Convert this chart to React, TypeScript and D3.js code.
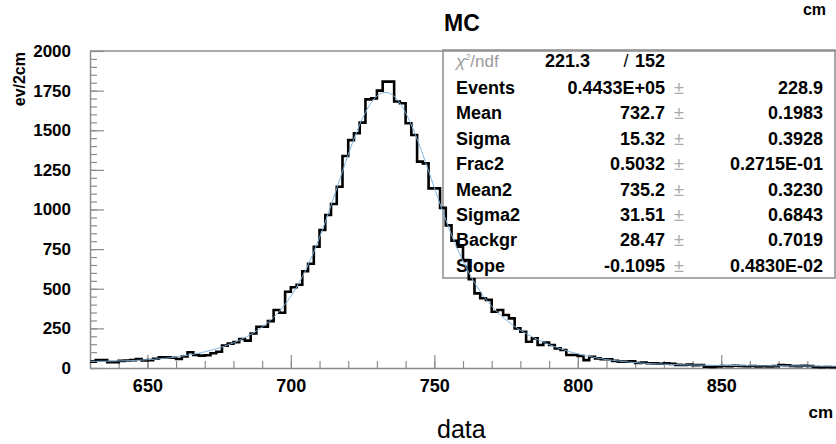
import React, { useEffect, useRef } from 'react';
import * as d3 from 'd3';

// histogram: 2 cm bins starting at 630 cm
const binLow = 630;
const binWidth = 2;
const counts = [
  40, 50, 50, 37, 37, 45, 47, 50, 57, 47,
  50, 58, 67, 67, 65, 57, 73, 99, 82, 78,
  80, 93, 103, 141, 154, 163, 183, 173, 218, 260,
  260, 296, 366, 349, 481, 509, 525, 610, 658, 765,
  871, 965, 1035, 1144, 1338, 1438, 1481, 1548, 1695, 1701,
  1750, 1807, 1807, 1681, 1670, 1544, 1470, 1302, 1291, 1133,
  1133, 1010, 900, 803, 765, 681, 560, 471, 440, 430,
  355, 366, 334, 313, 250, 229, 166, 187, 145, 160,
  145, 124, 114, 82, 82, 76, 50, 71, 61, 55,
  55, 45, 40, 40, 43, 32, 34, 30, 29, 27,
  29, 26, 20, 19, 21, 18, 19, 8, 7, 9,
  13, 12, 14, 13, 11, 13, 10, 11, 9, 12,
  19, 17, 13, 12, 14, 13, 6, 5, 6, 5,
];

const xTicks = [650, 700, 750, 800, 850];
const yTicks = [0, 250, 500, 750, 1000, 1250, 1500, 1750, 2000];

// fit box
const chi2 = '221.3';
const ndf = '152';
const statNames = ['Events', 'Mean', 'Sigma', 'Frac2', 'Mean2', 'Sigma2', 'Backgr', 'Slope'];
const statValues = ['0.4433E+05', '732.7', '15.32', '0.5032', '735.2', '31.51', '28.47', '-0.1095'];
const statErrors = ['228.9', '0.1983', '0.3928', '0.2715E-01', '0.3230', '0.6843', '0.7019', '0.4830E-02'];

const W = 836;
const H = 444;
const margin = { left: 90, right: 836, top: 51, bottom: 368 };
const font = '"Liberation Sans", Arial, Helvetica, sans-serif';
const axisGrey = '#8c8c8c';

const x = d3.scaleLinear().domain([630, 890]).range([margin.left, margin.right]);
const y = d3.scaleLinear().domain([0, 2000]).range([margin.bottom, margin.top]);

function gauss(v: number, m: number, s: number) {
  const z = (v - m) / s;
  return Math.exp(-0.5 * z * z) / (s * Math.sqrt(2 * Math.PI));
}

// fit function built from the parameters printed in the box
function fitFn(v: number) {
  const p = statValues.map(Number);
  const [N, m1, s1, f2, m2, s2, b, sl] = p;
  return N * binWidth * ((1 - f2) * gauss(v, m1, s1) + f2 * gauss(v, m2, s2)) + b + sl * (v - m1);
}

export default function App() {
  const xAxisRef = useRef<SVGGElement>(null);
  const xMinorRef = useRef<SVGGElement>(null);
  const yAxisRef = useRef<SVGGElement>(null);
  const yMinorRef = useRef<SVGGElement>(null);

  useEffect(() => {
    const xa = d3.select(xAxisRef.current!);
    xa.call(
      d3.axisBottom(x).tickValues(xTicks).tickSizeInner(-13).tickSizeOuter(0).tickPadding(11)
        .tickFormat(d3.format('d'))
    );
    xa.select('.domain').attr('stroke', axisGrey).attr('stroke-width', 1.5);
    xa.selectAll('.tick line').attr('stroke', axisGrey).attr('stroke-width', 1.2);
    xa.selectAll('.tick text')
      .attr('font-family', font).attr('font-size', 18).attr('font-weight', 'bold').attr('fill', '#000');

    const xm = d3.select(xMinorRef.current!);
    xm.call(
      d3.axisBottom(x).tickValues(d3.range(640, 890, 10)).tickSizeInner(-7).tickSizeOuter(0)
        .tickFormat(() => '')
    );
    xm.select('.domain').remove();
    xm.selectAll('.tick line').attr('stroke', axisGrey).attr('stroke-width', 1.2);

    const ya = d3.select(yAxisRef.current!);
    ya.call(
      d3.axisLeft(y).tickValues(yTicks).tickSizeInner(-14).tickSizeOuter(0).tickPadding(19)
        .tickFormat(d3.format('d'))
    );
    ya.select('.domain').attr('stroke', axisGrey).attr('stroke-width', 1.5);
    ya.selectAll('.tick line').attr('stroke', axisGrey).attr('stroke-width', 1.2);
    ya.selectAll('.tick text')
      .attr('font-family', font).attr('font-size', 17).attr('font-weight', 'bold').attr('fill', '#000');

    const ym = d3.select(yMinorRef.current!);
    ym.call(
      d3.axisLeft(y).tickValues(d3.range(0, 2000, 50)).tickSizeInner(-7).tickSizeOuter(0)
        .tickFormat(() => '')
    );
    ym.select('.domain').remove();
    ym.selectAll('.tick line').attr('stroke', axisGrey).attr('stroke-width', 1.2);
  }, []);

  const histPts: [number, number][] = counts.map((c, i) => [binLow + i * binWidth, c]);
  histPts.push([binLow + counts.length * binWidth, counts[counts.length - 1]]);
  const histPath = d3.line<[number, number]>()
    .x((d) => x(d[0]))
    .y((d) => y(d[1]))
    .curve(d3.curveStepAfter)(histPts);

  const fitPts = d3.range(630, 890.01, 0.5).map((v) => [v, fitFn(v)] as [number, number]);
  const fitPath = d3.line<[number, number]>()
    .x((d) => x(d[0]))
    .y((d) => y(d[1]))(fitPts);

  const boxX = 443;
  const boxY = 50;
  const rowY0 = 94;
  const rowStep = 25.4;

  return (
    <svg width={W} height={H} style={{ position: 'absolute', left: 0, top: 0, background: '#fff' }}>
      <rect x={0} y={0} width={W} height={H} fill="#fff" />

      {/* stats box (under the curves) */}
      <rect x={boxX} y={boxY} width={392} height={228} fill="#fff" stroke={axisGrey} strokeWidth={1.5} />
      <g fontFamily={font} fontSize={18} fontWeight="bold" fill="#000">
        <text x={456} y={67} fontWeight="normal" fill="#9a9a9a" fontSize={17} fontStyle="italic">
          χ<tspan dy={-7} fontSize={9}>2</tspan><tspan dy={7} fontStyle="normal">/ndf</tspan>
        </text>
        <text x={590} y={67} textAnchor="end">{chi2}</text>
        <text x={626} y={67} textAnchor="middle" fontWeight="normal">/</text>
        <text x={665} y={67} textAnchor="end">{ndf}</text>
        {statNames.map((n, i) => (
          <g key={n}>
            <text x={456} y={rowY0 + i * rowStep}>{n}</text>
            <text x={665} y={rowY0 + i * rowStep} textAnchor="end">{statValues[i]}</text>
            <text x={679} y={rowY0 + i * rowStep} textAnchor="middle" fontWeight="normal" fill="#aaa">±</text>
            <text x={823} y={rowY0 + i * rowStep} textAnchor="end">{statErrors[i]}</text>
          </g>
        ))}
      </g>

      {/* frame */}
      <line x1={margin.left} x2={margin.right} y1={margin.top} y2={margin.top} stroke={axisGrey} strokeWidth={1.5} />

      <g ref={yMinorRef} transform={`translate(${margin.left},0)`} />
      <g ref={yAxisRef} transform={`translate(${margin.left},0)`} />
      <g ref={xMinorRef} transform={`translate(0,${margin.bottom})`} />
      <g ref={xAxisRef} transform={`translate(0,${margin.bottom})`} />

      <defs>
        <clipPath id="plotClip">
          <rect x={margin.left} y={margin.top} width={margin.right - margin.left} height={margin.bottom - margin.top + 2} />
        </clipPath>
      </defs>
      <g clipPath="url(#plotClip)">
        <path d={histPath ?? ''} fill="none" stroke="#000" strokeWidth={2.6} />
        <path d={fitPath ?? ''} fill="none" stroke="#7fb2dc" strokeWidth={1} />
      </g>

      <g fontFamily={font}>
        <text x={444} y={31} fontSize={23} fontWeight="bold">MC</text>
        <text x={826} y={15} fontSize={16} fontWeight="bold" textAnchor="end">cm</text>
        <text x={833} y={418} fontSize={17} fontWeight="bold" textAnchor="end">cm</text>
        <text x={437} y={438} fontSize={25}>data</text>
        <text transform="translate(25,52) rotate(-90)" fontSize={16} fontWeight="bold" textAnchor="end">ev/2cm</text>
      </g>
    </svg>
  );
}
